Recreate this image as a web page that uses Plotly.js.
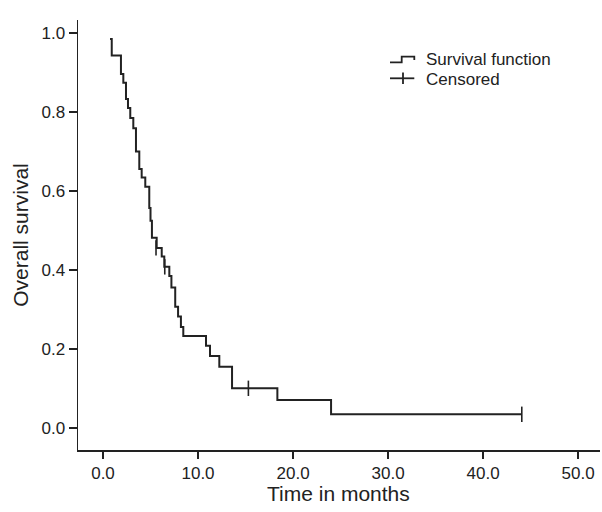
<!DOCTYPE html>
<html>
<head>
<meta charset="utf-8">
<script src="https://cdn.plot.ly/plotly-3.0.1.min.js"></script>
<style>html,body{margin:0;padding:0;background:#fff;}#chart{width:602px;height:512px;}</style>
</head>
<body>
<div id="chart"></div>
<script>
// Survival step points (time in months, survival after event)
const eventTimes = [0.74, 0.92, 1.89, 2.14, 2.42, 2.63, 2.87, 3.19, 3.47, 3.82, 4.07, 4.45, 4.87, 5.0, 5.15, 5.65, 6.18, 6.45, 6.98, 7.2, 7.6, 7.9, 8.2, 8.45, 10.84, 11.26, 12.24, 13.58, 18.35, 24.0, 44.07];
const survival = [0.985, 0.943, 0.896, 0.874, 0.833, 0.810, 0.785, 0.759, 0.700, 0.656, 0.634, 0.611, 0.557, 0.525, 0.482, 0.456, 0.434, 0.408, 0.385, 0.356, 0.307, 0.282, 0.256, 0.233, 0.208, 0.182, 0.155, 0.1005, 0.071, 0.0347, 0.0347];
// Censored observations
const censorTimes = [5.58, 6.5, 15.3, 44.07];
const censorSurv = [0.456, 0.408, 0.1005, 0.0347];
const xTicks = [0, 10, 20, 30, 40, 50];
const yTicks = [0, 0.2, 0.4, 0.6, 0.8, 1.0];
const legendLabels = ['Survival function', 'Censored'];
const xTitle = 'Time in months';
const yTitle = 'Overall survival';

const FONT = '"Liberation Sans", Arial, sans-serif';
const INK = '#222222';
const FS = 17;
const TS = 21;

const traces = [
  {x: eventTimes, y: survival, mode: 'lines', line: {shape: 'hv', color: INK, width: 2}, showlegend: false, hoverinfo: 'skip'},
  {x: censorTimes, y: censorSurv, mode: 'markers', marker: {symbol: 'line-ns', size: 11, line: {color: INK, width: 1.6}}, showlegend: false, hoverinfo: 'skip'}
];

const L = 78, R = 600, T = 20, B = 450;
const px = v => (v - L) / (R - L);
const py = v => (B - v) / (B - T);

const layout = {
  width: 602, height: 512,
  margin: {l: 78, r: 2, t: 20, b: 62},
  paper_bgcolor: '#fff', plot_bgcolor: '#fff',
  font: {family: FONT, size: FS, color: INK},
  xaxis: {
    range: [-2.63, 52.3], tickvals: xTicks, ticktext: xTicks.map(v => v.toFixed(1)),
    showline: true, linecolor: INK, linewidth: 1.5, ticks: 'outside', ticklen: 7, tickwidth: 1.5, tickcolor: INK,
    showgrid: false, zeroline: false, tickfont: {family: FONT, size: FS, color: INK}
  },
  yaxis: {
    range: [-0.0557, 1.033], tickvals: yTicks, ticktext: yTicks.map(v => v.toFixed(1)),
    showline: true, linecolor: INK, linewidth: 1.5, ticks: 'outside', ticklen: 8, tickwidth: 1.5, tickcolor: INK,
    showgrid: false, zeroline: false, tickfont: {family: FONT, size: FS, color: INK},
    title: {text: yTitle, font: {family: FONT, size: TS, color: INK}, standoff: 7}
  },
  showlegend: false,
  shapes: [
    {type: 'path', xref: 'paper', yref: 'paper',
     path: `M${px(390)},${py(62.3)} H${px(401.7)} V${py(56.7)} H${px(414.3)} V${py(60)}`,
     line: {color: INK, width: 1.8}},
    {type: 'line', xref: 'paper', yref: 'paper', x0: px(390), x1: px(414.3), y0: py(78.3), y1: py(78.3), line: {color: INK, width: 1.8}},
    {type: 'line', xref: 'paper', yref: 'paper', x0: px(403), x1: px(403), y0: py(72.5), y1: py(84), line: {color: INK, width: 1.8}}
  ],
  annotations: [
    {xref: 'paper', yref: 'paper', x: px(424), y: py(59), xanchor: 'left', yanchor: 'middle', text: legendLabels[0], showarrow: false, font: {family: FONT, size: FS, color: INK}},
    {xref: 'paper', yref: 'paper', x: px(424), y: py(79), xanchor: 'left', yanchor: 'middle', text: legendLabels[1], showarrow: false, font: {family: FONT, size: FS, color: INK}},
    {xref: 'paper', yref: 'paper', x: px(338), y: py(493), xanchor: 'center', yanchor: 'middle', text: xTitle, showarrow: false, font: {family: FONT, size: TS, color: INK}}
  ]
};

Plotly.newPlot('chart', traces, layout, {displayModeBar: false, staticPlot: true});
</script>
</body>
</html>
